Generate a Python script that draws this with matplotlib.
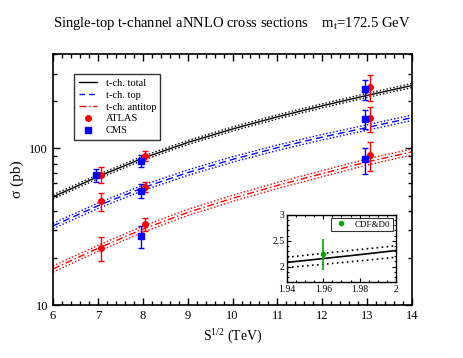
import matplotlib
matplotlib.use("Agg")
import matplotlib.pyplot as plt
import numpy as np
from matplotlib.ticker import MultipleLocator, LogLocator, NullFormatter, FixedLocator
from matplotlib.lines import Line2D

plt.rcParams['font.family'] = ['Liberation Serif', 'DejaVu Serif']
plt.rcParams['mathtext.fontset'] = 'custom'
plt.rcParams['mathtext.rm'] = 'Liberation Serif'

# ---- data ----
energies = [6, 7, 8, 9, 10, 11, 12, 13, 14]
top_xs = [32, 43, 56, 70, 85, 101, 118, 136, 157]
antitop_xs = [17, 23, 30.5, 39, 48, 58, 69, 82, 95]
total_xs = [t + a for t, a in zip(top_xs, antitop_xs)]
rel_unc_total = 0.03
rel_unc_top = 0.04
rel_unc_antitop = 0.045

atlas_E = [7.06, 8.06, 13.06]
atlas_total = [68, 89.6, 247]
atlas_total_err = [8, 7, 45]
atlas_top = [46, 56.7, 156]
atlas_top_err = [6, 4.3, 28]
atlas_antitop = [23, 32.9, 91]
atlas_antitop_err = [4, 3, 19]

cms_E_total = [6.96, 7.96, 12.95]
cms_total = [67.2, 83.6, 238]
cms_total_err = [6.1, 7.7, 35]
cms_E_sep = [7.96, 12.95]
cms_top = [53.8, 154]
cms_top_err = [5.5, 22]
cms_antitop = [27.6, 85]
cms_antitop_err = [4.4, 16]

# inset (Tevatron)
tev_E = [1.94, 1.96, 1.98, 2.0]
tev_xs = [2.08, 2.155, 2.23, 2.31]
tev_up = [2.18, 2.255, 2.33, 2.40]
tev_dn = [1.98, 2.045, 2.11, 2.18]
cdfd0_E = [1.96]
cdfd0_xs = [2.25]
cdfd0_err_lo = [0.31]
cdfd0_err_hi = [0.29]

fig = plt.figure(figsize=(4.63, 3.58), dpi=100)
ax = fig.add_axes([0.1145, 0.148, 0.7755, 0.701])

E = np.array(energies)
def band(ax, vals, rel, color):
    v = np.array(vals)
    ax.plot(E, v * (1 + rel), color=color, lw=1.0, ls=(0, (1, 1.5)))
    ax.plot(E, v * (1 - rel), color=color, lw=1.0, ls=(0, (1, 1.5)))

band(ax, total_xs, rel_unc_total, 'black')
band(ax, top_xs, rel_unc_top, 'blue')
band(ax, antitop_xs, rel_unc_antitop, 'red')
ax.plot(E, total_xs, color='black', lw=1.0)
ax.plot(E, top_xs, color='blue', lw=1.0, ls=(0, (5, 3)))
ax.plot(E, antitop_xs, color='red', lw=1.0, ls=(0, (5, 2, 1, 2)))

ekw = dict(elinewidth=1.0, capsize=2, capthick=1.0, markersize=4, ls='none')
ax.errorbar(atlas_E, atlas_total, yerr=atlas_total_err, fmt='o', color='red', **ekw)
ax.errorbar(atlas_E, atlas_top, yerr=atlas_top_err, fmt='o', color='red', **ekw)
ax.errorbar(atlas_E, atlas_antitop, yerr=atlas_antitop_err, fmt='o', color='red', **ekw)
ax.errorbar(cms_E_total, cms_total, yerr=cms_total_err, fmt='s', color='blue', **ekw)
ax.errorbar(cms_E_sep, cms_top, yerr=cms_top_err, fmt='s', color='blue', **ekw)
ax.errorbar(cms_E_sep, cms_antitop, yerr=cms_antitop_err, fmt='s', color='blue', **ekw)

ax.set_xlim(6, 14)
ax.set_yscale('log')
ax.set_ylim(10, 400)
ax.xaxis.set_major_locator(MultipleLocator(1))
ax.xaxis.set_minor_locator(MultipleLocator(0.2))
ax.yaxis.set_major_locator(FixedLocator([10, 100]))
ax.yaxis.set_major_formatter(matplotlib.ticker.FuncFormatter(lambda v, p: f"{int(v)}"))
ax.yaxis.set_minor_locator(LogLocator(base=10, subs=np.arange(2, 10)))
ax.yaxis.set_minor_formatter(NullFormatter())
ax.tick_params(which='both', direction='in', top=True, right=True, labelsize=9, width=1.0)
ax.tick_params(which='major', length=5)
ax.tick_params(which='minor', length=3)
for s in ax.spines.values():
    s.set_linewidth(1.2)
ax.set_xlabel('S$^{1/2}$ (TeV)', fontsize=10, labelpad=3)
ax.set_ylabel('σ (pb)', fontsize=11, labelpad=4)

handles = [
    Line2D([], [], color='black', lw=1.0),
    Line2D([], [], color='blue', lw=1.0, ls=(0, (4, 3))),
    Line2D([], [], color='red', lw=1.0, ls=(0, (5, 2, 1, 2))),
    Line2D([], [], color='red', marker='o', ls='none', markersize=4),
    Line2D([], [], color='blue', marker='s', ls='none', markersize=4),
]
labels = ['t-ch. total', 't-ch. top', 't-ch. antitop', 'ATLAS', 'CMS']
leg = ax.legend(handles, labels, loc='upper left', bbox_to_anchor=(0.045, 0.94), fontsize=7.5,
                frameon=True, fancybox=False, edgecolor='black', handlelength=1.8,
                handletextpad=0.8, borderpad=0.4, labelspacing=0.25, numpoints=1)
leg.get_frame().set_linewidth(1.0)

fig.text(0.5, 0.935, r'Single-top t-channel aNNLO cross sections    m$_\mathrm{t}$=172.5 GeV',
         ha='center', va='center', fontsize=10.5)

# inset
ax2 = fig.add_axes([0.620, 0.212, 0.235, 0.188])
ax2.plot(tev_E, tev_xs, color='black', lw=1.2)
ax2.plot(tev_E, tev_up, color='black', lw=1.2, ls=(0, (1, 2)))
ax2.plot(tev_E, tev_dn, color='black', lw=1.2, ls=(0, (1, 2)))
ax2.errorbar(cdfd0_E, cdfd0_xs, yerr=[cdfd0_err_lo, cdfd0_err_hi], fmt='o', color='#00aa00',
             markersize=3, elinewidth=1.2, capsize=0, ls='none')
ax2.set_xlim(1.94, 2.0)
ax2.set_ylim(1.7, 3.0)
ax2.xaxis.set_major_locator(FixedLocator([1.94, 1.96, 1.98, 2.0]))
ax2.xaxis.set_major_formatter(matplotlib.ticker.FuncFormatter(lambda v, p: f"{v:g}"))
ax2.xaxis.set_minor_locator(MultipleLocator(0.005))
ax2.yaxis.set_major_locator(FixedLocator([2.0, 2.5, 3.0]))
ax2.yaxis.set_major_formatter(matplotlib.ticker.FuncFormatter(lambda v, p: f"{v:g}"))
ax2.yaxis.set_minor_locator(MultipleLocator(0.1))
ax2.tick_params(which='both', direction='in', top=True, right=True, labelsize=7, width=0.8, pad=2)
ax2.tick_params(which='major', length=3)
ax2.tick_params(which='minor', length=1.5)
for s in ax2.spines.values():
    s.set_linewidth(1.0)
h2 = [Line2D([], [], color='#00aa00', marker='o', ls='none', markersize=3)]
leg2 = ax2.legend(h2, ['CDF&D0'], loc='upper right', fontsize=6.5, frameon=True, fancybox=False,
                  edgecolor='black', handlelength=1.5, borderpad=0.3, numpoints=1,
                  borderaxespad=0.3)
leg2.get_frame().set_linewidth(0.8)

fig.savefig('out.png', dpi=100)
